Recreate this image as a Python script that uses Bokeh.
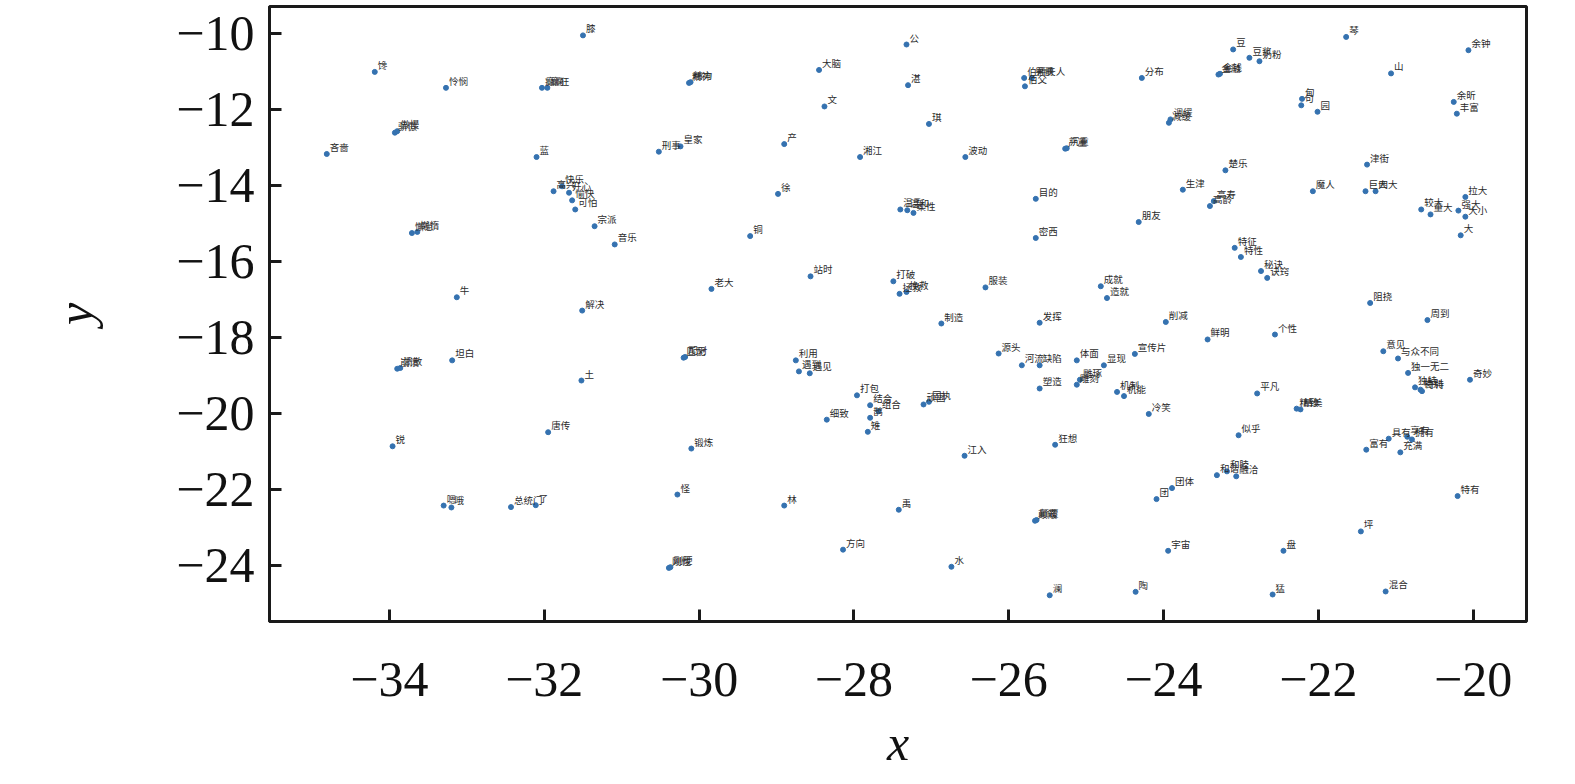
from bokeh.plotting import figure
from bokeh.models import ColumnDataSource, Range1d, FixedTicker
from bokeh.core.properties import value
from bokeh.embed import file_html
from bokeh.resources import INLINE

words = [
    "膝", "馋", "怜悯", "癫痫", "癫狂", "骄傲", "傲慢", "吝啬", "蓝",
    "高兴", "快乐", "开心", "愉快", "可怕",
    "精神", "精力", "大脑", "文", "刑事", "皇家", "产", "湘江", "徐",
    "公", "湛", "琪", "波动", "伯爵夫人", "男爵", "伯父", "分布", "减缓", "调缓",
    "严重", "沉重", "目的", "生津", "温柔", "温和", "柔性",
    "豆", "豆浆", "奶粉", "金融", "金钱", "琴", "余钟", "山", "甸", "句", "园",
    "余昕", "丰富", "津街", "楚乐", "魔人", "巨大", "四大", "拉大", "高龄", "高寿",
    "较大", "重大", "强大", "大小",
    "懈怠", "懒惰", "牛", "解决", "崩溃", "溃散", "坦白", "土",
    "宗派", "音乐", "铜", "站时", "老大", "匹配", "配对", "利用", "遇到", "遇见",
    "打包", "结合", "组合", "细致", "打破", "拯救", "挽救",
    "朋友", "密西", "服装", "成就", "造就", "制造", "发挥", "削减", "源头", "河流", "缺陷",
    "体面", "显现", "宣传片", "塑造", "雕刻", "雕琢", "机制", "机能", "冷笑", "顽固", "固执",
    "大", "特征", "特性", "秘诀", "诀窍", "阻挠", "周到", "鲜明", "个性", "意见", "与众不同",
    "独一无二", "独特", "奇特", "特别", "奇妙", "平凡", "精致", "精美",
    "锐", "唐传", "嗯", "哦", "总统门", "了", "鹊", "雉", "锻炼", "怪", "林", "方向",
    "刚性", "刚硬", "禹", "江入", "狂想", "水", "颠簸", "颠覆", "澜", "陶", "团", "团体",
    "宇宙", "似乎", "和谐", "和睦", "融洽", "富有", "具有", "享有", "拥有", "充满",
    "特有", "坪", "盘", "猛", "混合",
]

xs = [
    -31.50, -34.19, -33.27, -32.03, -31.96, -33.93, -33.90, -34.81, -32.10,
    -31.88, -31.77, -31.68, -31.64, -31.60,
    -30.13, -30.11, -28.45, -28.38, -30.52, -30.24, -28.90, -27.92, -28.98,
    -27.32, -27.30, -27.03, -26.56, -25.80, -25.70, -25.79, -24.28, -23.93, -23.91,
    -25.27, -25.25, -25.65, -23.75, -27.40, -27.31, -27.23,
    -23.10, -22.89, -22.76, -23.29, -23.27, -21.64, -20.06, -21.06, -22.21, -22.22, -22.01,
    -20.25, -20.21, -21.37, -23.20, -22.07, -21.39, -21.26, -20.10, -23.40, -23.35,
    -20.67, -20.55, -20.19, -20.10,
    -33.71, -33.64, -33.13, -31.51, -33.90, -33.86, -33.19, -31.52,
    -31.35, -31.09, -29.34, -28.56, -29.84, -30.20, -30.18, -28.75, -28.71, -28.57,
    -27.96, -27.79, -27.68, -28.35, -27.49, -27.41, -27.32,
    -24.32, -25.65, -26.30, -24.81, -24.73, -26.87, -25.60, -23.97, -26.13, -25.83, -25.60,
    -25.12, -24.77, -24.37, -25.60, -25.12, -25.08, -24.60, -24.51, -24.19, -27.10, -27.03,
    -20.16, -23.08, -23.00, -22.74, -22.66, -21.33, -20.59, -23.43, -22.56, -21.16, -20.97,
    -20.84, -20.75, -20.66, -20.68, -20.04, -22.79, -22.28, -22.23,
    -33.96, -31.95, -33.30, -33.20, -32.43, -32.11, -27.79, -27.82, -30.10, -30.28, -28.90, -28.14,
    -30.39, -30.37, -27.42, -26.57, -25.40, -26.74, -25.66, -25.64, -25.47, -24.36, -24.09, -23.89,
    -23.94, -23.03, -23.31, -23.18, -23.06, -21.38, -21.09, -20.85, -20.79, -20.94,
    -20.20, -21.45, -22.45, -22.59, -21.13,
]

ys = [
    -10.05, -11.01, -11.43, -11.43, -11.43, -12.61, -12.57, -13.17, -13.25,
    -14.15, -14.02, -14.19, -14.39, -14.63,
    -11.30, -11.28, -10.96, -11.92, -13.11, -12.97, -12.91, -13.25, -14.22,
    -10.29, -11.36, -12.38, -13.25, -11.17, -11.17, -11.39, -11.17, -12.35, -12.26,
    -13.03, -13.02, -14.35, -14.11, -14.63, -14.65, -14.72,
    -10.42, -10.64, -10.73, -11.08, -11.06, -10.09, -10.44, -11.05, -11.72, -11.89, -12.06,
    -11.80, -12.11, -13.45, -13.60, -14.15, -14.15, -14.15, -14.30, -14.54, -14.41,
    -14.63, -14.76, -14.66, -14.82,
    -15.25, -15.22, -16.94, -17.29, -18.82, -18.80, -18.60, -19.13,
    -15.07, -15.55, -15.33, -16.39, -16.72, -18.53, -18.51, -18.60, -18.89, -18.94,
    -19.52, -19.78, -19.94, -20.16, -16.52, -16.85, -16.80,
    -14.96, -15.38, -16.68, -16.65, -16.96, -17.63, -17.61, -17.59, -18.42, -18.73, -18.73,
    -18.60, -18.73, -18.43, -19.34, -19.24, -19.11, -19.43, -19.54, -20.01, -19.76, -19.69,
    -15.31, -15.64, -15.88, -16.25, -16.43, -17.09, -17.54, -18.05, -17.92, -18.36, -18.55,
    -18.93, -19.31, -19.41, -19.37, -19.11, -19.47, -19.87, -19.89,
    -20.86, -20.49, -22.42, -22.47, -22.46, -22.41, -20.11, -20.48, -20.92, -22.13, -22.42, -23.58,
    -24.06, -24.04, -22.53, -21.11, -20.82, -24.03, -22.82, -22.80, -24.78, -24.69, -22.25, -21.96,
    -23.61, -20.57, -21.62, -21.52, -21.65, -20.95, -20.66, -20.61, -20.68, -21.02,
    -22.17, -23.10, -23.61, -24.76, -24.68,
]

x_ticks = [-34, -32, -30, -28, -26, -24, -22, -20]
x_tick_labels = ["−34", "−32", "−30", "−28", "−26", "−24", "−22", "−20"]
y_ticks = [-10, -12, -14, -16, -18, -20, -22, -24]
y_tick_labels = ["−10", "−12", "−14", "−16", "−18", "−20", "−22", "−24"]

source = ColumnDataSource(data=dict(x=xs, y=ys, label=words))

p = figure(frame_width=1257, frame_height=615, output_backend="svg", toolbar_location=None,
           x_range=Range1d(-35.55, -19.31), y_range=Range1d(-25.47, -9.29),
           min_border_left=269, min_border_top=6, min_border_right=22, min_border_bottom=158)

p.background_fill_color = "white"
p.border_fill_color = "white"
p.grid.visible = False
p.outline_line_color = "#1a1a1a"
p.outline_line_width = 3

p.scatter("x", "y", source=source, size=5, marker="circle", color="#3572b0")
p.text("x", "y", text="label", source=source, text_font=value("Noto Sans CJK SC"),
       text_font_size="9.5px", x_offset=3, y_offset=0, text_baseline="bottom",
       text_align="left", text_color="#2a2a2a")

for ax, ticks, labels in ((p.xaxis[0], x_ticks, x_tick_labels), (p.yaxis[0], y_ticks, y_tick_labels)):
    ax.ticker = FixedTicker(ticks=ticks)
    ax.major_label_overrides = {t: l for t, l in zip(ticks, labels)}
    ax.axis_line_width = 3
    ax.axis_line_color = "#1a1a1a"
    ax.major_tick_in = 12
    ax.major_tick_out = 0
    ax.major_tick_line_width = 3
    ax.major_tick_line_color = "#1a1a1a"
    ax.minor_tick_line_color = None
    ax.major_label_text_font = "Liberation Serif"
    ax.major_label_text_font_size = "50px"
    ax.major_label_text_color = "#111111"
    ax.axis_label_text_font = "Liberation Serif"
    ax.axis_label_text_font_size = "50px"
    ax.axis_label_text_font_style = "italic"
    ax.axis_label_text_color = "#111111"

p.xaxis.axis_label = "x"
p.yaxis.axis_label = "y"
p.xaxis.major_label_standoff = 41
p.yaxis.major_label_standoff = 15
p.xaxis.axis_label_standoff = 16
p.yaxis.axis_label_standoff = 70

open("out.html", "w").write(file_html(p, INLINE))
